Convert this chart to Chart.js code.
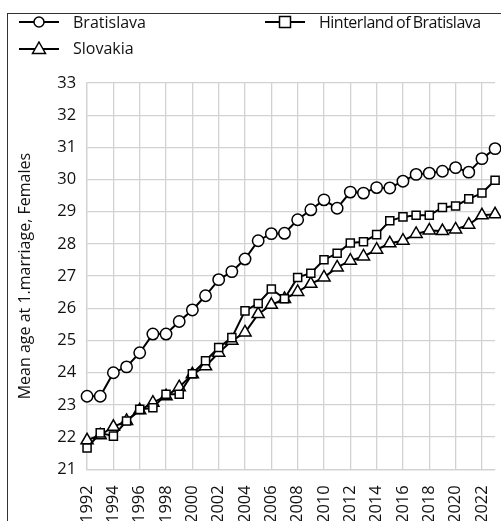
<!DOCTYPE html>
<html>
<head>
<meta charset="utf-8">
<script src="https://cdn.jsdelivr.net/npm/chart.js@4/dist/chart.umd.min.js"></script>
<style>
  html, body { margin: 0; padding: 0; background: #fff; }
  #wrap { position: relative; width: 501px; height: 521px; overflow: hidden; }
  #frame { position: absolute; left: 7px; top: 13px; width: 600px; height: 600px; border: 1.5px solid #333; box-sizing: border-box; pointer-events: none; }
  canvas { position: absolute; left: 0; top: 0; }
  .leg { position: absolute; font-family: "Open Sans", sans-serif; font-size: 16px; color: #111; display: flex; align-items: center; white-space: nowrap; }
  .leg svg { margin-right: 14px; }
</style>
</head>
<body>
<div id="wrap">
  <canvas id="c" width="518" height="539"></canvas>
  <div id="frame"></div>
  <div class="leg" style="left:19px; top:11px;"><svg width="40" height="14"><line x1="0" y1="7" x2="40" y2="7" stroke="#000" stroke-width="2"/><circle cx="20" cy="7" r="5" fill="#fff" stroke="#000" stroke-width="1.5"/></svg><span>Bratislava</span></div>
  <div class="leg" style="left:265px; top:11px;"><svg width="40" height="14"><line x1="0" y1="7" x2="40" y2="7" stroke="#000" stroke-width="2"/><rect x="14.5" y="1.5" width="11" height="11" fill="#fff" stroke="#000" stroke-width="1.5"/></svg><span style="letter-spacing:-0.5px; word-spacing:-1px;">Hinterland of Bratislava</span></div>
  <div class="leg" style="left:19px; top:37px;"><svg width="40" height="14"><line x1="0" y1="8" x2="40" y2="8" stroke="#000" stroke-width="2"/><polygon points="20,1 26.5,12.5 13.5,12.5" fill="#fff" stroke="#000" stroke-width="1.5"/></svg><span>Slovakia</span></div>
</div>
<script>
const years = [1992,1993,1994,1995,1996,1997,1998,1999,2000,2001,2002,2003,2004,2005,2006,2007,2008,2009,2010,2011,2012,2013,2014,2015,2016,2017,2018,2019,2020,2021,2022,2023];
const bratislava = [23.27,23.27,24.0,24.18,24.62,25.2,25.2,25.59,25.95,26.39,26.89,27.14,27.53,28.1,28.32,28.33,28.75,29.06,29.37,29.11,29.61,29.58,29.75,29.74,29.95,30.16,30.2,30.26,30.37,30.23,30.65,30.96];
const hinterland = [21.66,22.13,22.03,22.5,22.86,22.91,23.33,23.33,23.97,24.37,24.78,25.09,25.92,26.15,26.6,26.3,26.96,27.09,27.51,27.71,28.03,28.07,28.29,28.72,28.84,28.89,28.89,29.13,29.18,29.4,29.58,29.98];
const slovakia = [21.9,22.06,22.32,22.5,22.83,23.07,23.27,23.55,23.95,24.2,24.62,24.99,25.25,25.82,26.11,26.29,26.51,26.76,26.96,27.27,27.48,27.61,27.82,28.02,28.1,28.31,28.42,28.4,28.45,28.6,28.89,28.92];
const yTitle = "Mean age at 1.marriage, Females";

function pts(arr) { return arr.map((v, i) => ({ x: years[i], y: v })); }
function ds(label, arr, style) {
  return {
    label, data: pts(arr), borderColor: '#000', borderWidth: 2, clip: false,
    pointStyle: style, pointRadius: style === 'triangle' ? 7 : 5.7,
    pointBackgroundColor: '#fff', pointBorderColor: '#000', pointBorderWidth: 1.5,
    tension: 0
  };
}
const grid = '#d2d2d2';
const tickFont = { family: 'Open Sans', size: 16.5 };
new Chart(document.getElementById('c'), {
  type: 'line',
  data: { datasets: [ds('Bratislava', bratislava, 'circle'), ds('Hinterland of Bratislava', hinterland, 'rect'), ds('Slovakia', slovakia, 'triangle')] },
  options: {
    responsive: false, animation: false,
    layout: { padding: { top: 83, right: 0, left: 16, bottom: 0 } },
    plugins: { legend: { display: false }, tooltip: { enabled: false } },
    scales: {
      x: {
        type: 'linear', min: 1992, max: 2023,
        grid: { color: grid, lineWidth: 1.3, drawTicks: false },
        border: { color: grid, width: 1.3 },
        ticks: { stepSize: 2, includeBounds: false, minRotation: 90, maxRotation: 90, padding: 16, autoSkip: false,
          color: '#111', font: tickFont, callback: v => String(v) }
      },
      y: {
        min: 21, max: 33,
        grid: { color: grid, lineWidth: 1.3, drawTicks: false },
        border: { color: grid, width: 1.3 },
        ticks: { stepSize: 1, padding: 11, color: '#111', font: tickFont },
        title: { display: true, text: yTitle, color: '#111', font: { family: 'Open Sans', size: 16 }, padding: { top: 0, bottom: 11 } }
      }
    }
  }
});
</script>
</body>
</html>
